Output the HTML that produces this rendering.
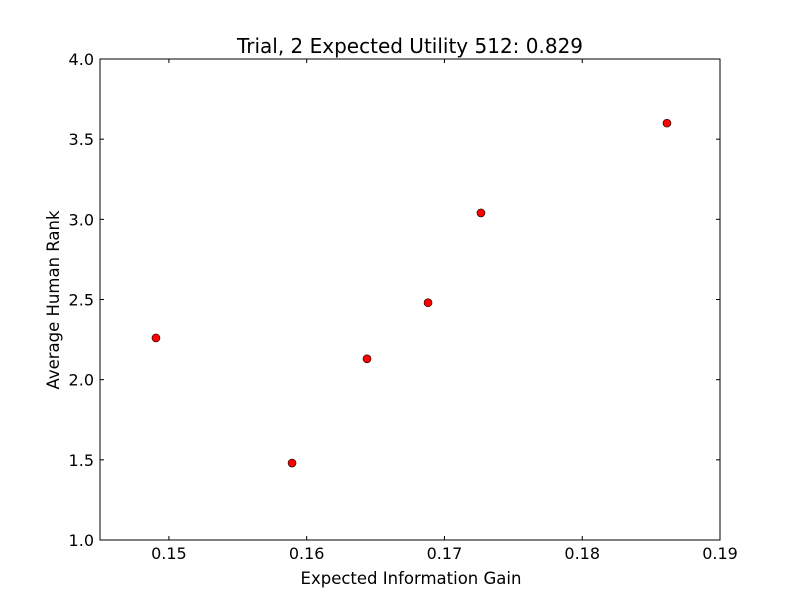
<!DOCTYPE html>
<html><head><meta charset="utf-8"><style>
body{margin:0;background:#fff;}
svg text{font-family:"DejaVu Sans","Liberation Sans",sans-serif;fill:#000;}
</style></head><body>
<svg id="chart" width="800" height="600" xmlns="http://www.w3.org/2000/svg">
<rect width="800" height="600" fill="#fff"/>
<text x="410" y="53" font-size="20" text-anchor="middle">Trial, 2 Expected Utility 512: 0.829</text>
<text x="411" y="584" font-size="16.5" text-anchor="middle">Expected Information Gain</text>
<text x="0" y="0" font-size="16.5" text-anchor="middle" transform="translate(59,300) rotate(-90)">Average Human Rank</text>
<g id="ticks"></g>
<g id="points"></g>
<rect x="100" y="59" width="620" height="481" fill="none" stroke="#000" stroke-width="1"/>
</svg>
<script>
const xValues=[0.14906,0.15894,0.16438,0.16881,0.17265,0.18615];
const yValues=[2.26,1.48,2.13,2.48,3.04,3.60];
const xTicks=[0.15,0.16,0.17,0.18,0.19];
const xTickLabels=["0.15","0.16","0.17","0.18","0.19"];
const yTicks=[1.0,1.5,2.0,2.5,3.0,3.5,4.0];
const yTickLabels=["1.0","1.5","2.0","2.5","3.0","3.5","4.0"];
const L=100,R=720,T=59,B=540,X0=0.145,X1=0.19,Y0=1,Y1=4;
const sx=v=>L+(v-X0)/(X1-X0)*(R-L);
const sy=v=>B-(v-Y0)/(Y1-Y0)*(B-T);
const NS="http://www.w3.org/2000/svg";
const tg=document.getElementById('ticks'),pg=document.getElementById('points');
function mk(t,a,p){const e=document.createElementNS(NS,t);for(const k in a)e.setAttribute(k,a[k]);p.appendChild(e);return e;}
xTicks.forEach((v,i)=>{const x=sx(v);
 mk('line',{x1:x,x2:x,y1:B,y2:B-4,stroke:'#000'},tg);
 mk('line',{x1:x,x2:x,y1:T,y2:T+4,stroke:'#000'},tg);
 const t=mk('text',{x:x,y:B+19,'font-size':16,'text-anchor':'middle'},tg);t.textContent=xTickLabels[i];
 
 
});
yTicks.forEach((v,i)=>{const y=sy(v);
 mk('line',{x1:L,x2:L+4,y1:y,y2:y,stroke:'#000'},tg);
 mk('line',{x1:R,x2:R-4,y1:y,y2:y,stroke:'#000'},tg);
 const t=mk('text',{x:L-6,y:y+6,'font-size':16,'text-anchor':'end'},tg);t.textContent=yTickLabels[i];
 
 
});
xValues.forEach((v,i)=>{
 const c=mk('circle',{cx:sx(v),cy:sy(yValues[i]),r:4,fill:'#ff0000',stroke:'#000','stroke-width':0.6},pg);
 
 
});
</script>
</body></html>
